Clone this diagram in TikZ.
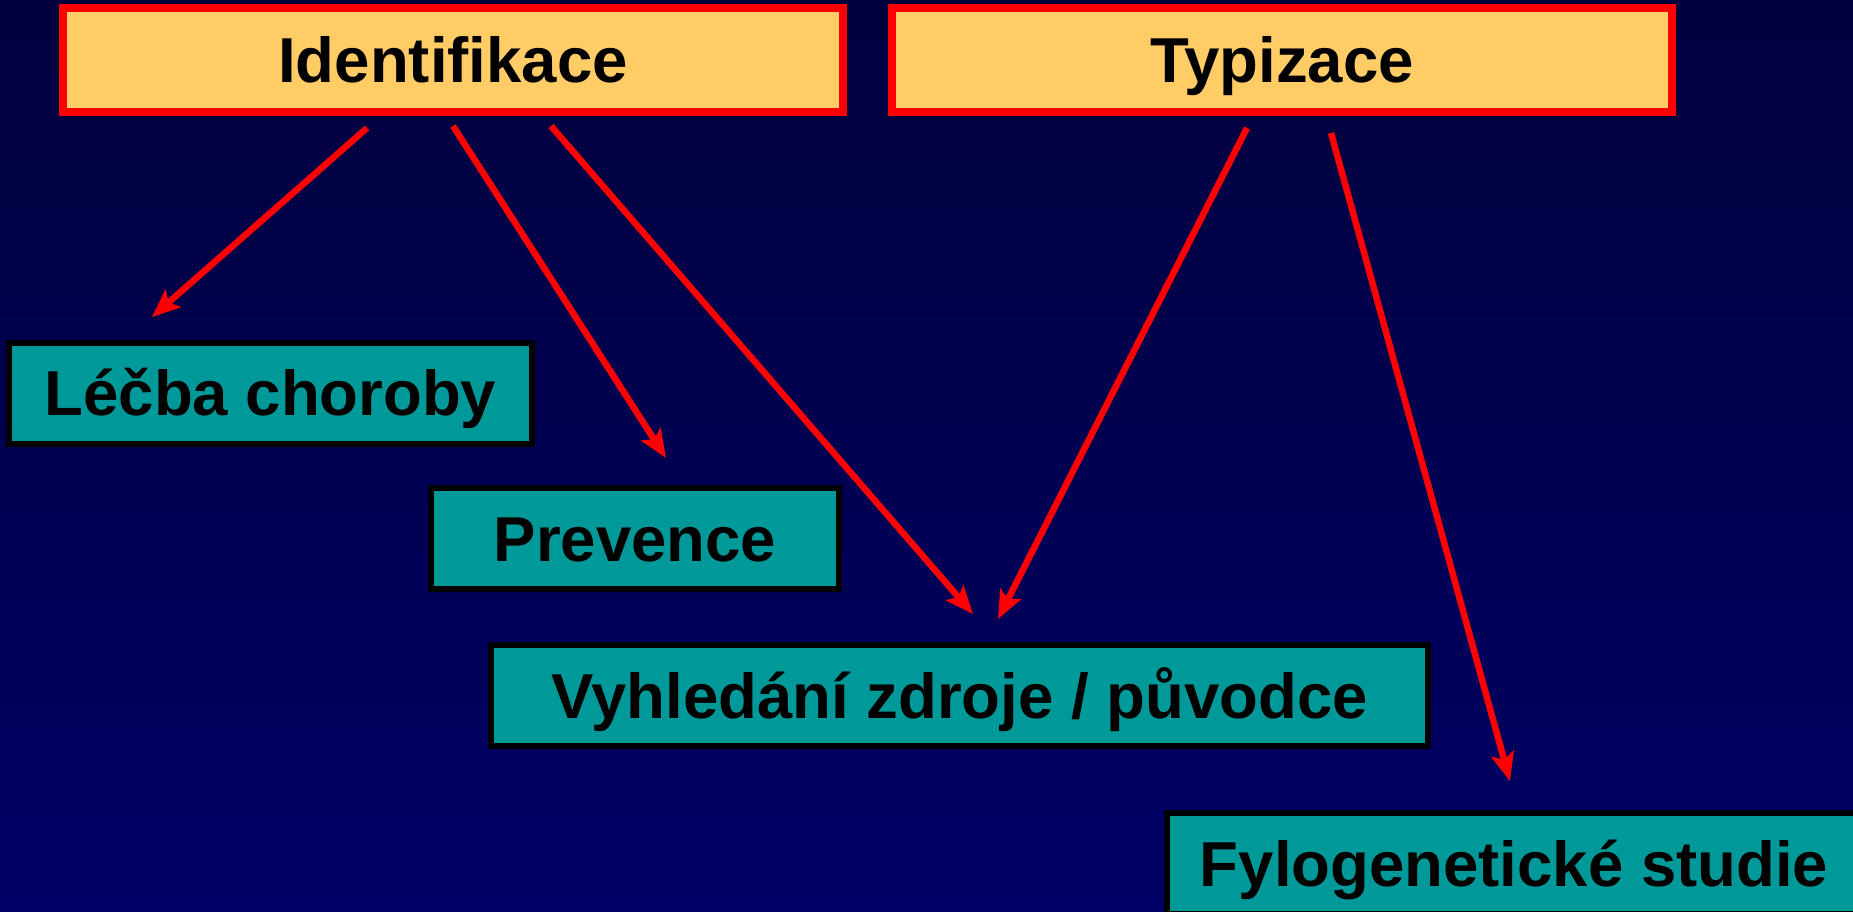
\documentclass[tikz,border=0pt]{standalone}
\usepackage{fontspec}
\setmainfont{Liberation Sans}
\usetikzlibrary{arrows.meta}
\definecolor{bgtop}{HTML}{00003C}
\definecolor{bgbot}{HTML}{000066}
\definecolor{boxorange}{HTML}{FFCC66}
\definecolor{boxteal}{HTML}{009999}
\definecolor{linered}{HTML}{FF0000}
\tikzset{
  lbl/.style={inner sep=0pt, outer sep=0pt, text height=45.5pt, text depth=0pt,
    font=\fontsize{63.5}{76}\selectfont\bfseries, text=black},
  headbox/.style={lbl, rectangle, draw=linered, line width=8pt, fill=boxorange,
    minimum height=104pt},
  topicbox/.style={lbl, rectangle, draw=black, line width=6pt, fill=boxteal,
    minimum height=101pt},
  conn/.style={draw=linered, line width=6.5pt,
    -{Stealth[length=28pt, width=23pt, inset=6pt]}}
}
\begin{document}
\begin{tikzpicture}[x=1pt, y=-1pt]
  \useasboundingbox (0,0) rectangle (1853,912);
  \clip (0,0) rectangle (1853,912);
  \shade[top color=bgtop, bottom color=bgbot] (0,0) rectangle (1853,912);

  \node[headbox, minimum width=780pt] (ident) at (453,60) {Identifikace};
  \node[headbox, minimum width=780pt] (typ) at (1282,60) {Typizace};

  \node[topicbox, minimum width=523pt] (lecba) at (270.5,393) {Léčba choroby};
  \node[topicbox, minimum width=408pt] (prev) at (635,538.5) {Prevence};
  \node[topicbox, minimum width=937pt] (vyhl) at (959.5,695.5) {Vyhledání zdroje / původce};
  \node[topicbox, minimum width=694pt] (fylo) at (1514,863.5) {Fylogenetické studie};

  \coordinate (s1) at (367,128);
  \coordinate (t1) at (152,317);
  \coordinate (s2) at (453,126);
  \coordinate (t2) at (666,458);
  \coordinate (s3) at (551,126);
  \coordinate (t3) at (973,614);
  \coordinate (s4) at (1247,128);
  \coordinate (t4) at (998,619);
  \coordinate (s5) at (1331,133);
  \coordinate (t5) at (1510,781);

  \draw[conn] (s1) -- (t1);
  \draw[conn] (s2) -- (t2);
  \draw[conn] (s3) -- (t3);
  \draw[conn] (s4) -- (t4);
  \draw[conn] (s5) -- (t5);
\end{tikzpicture}
\end{document}
